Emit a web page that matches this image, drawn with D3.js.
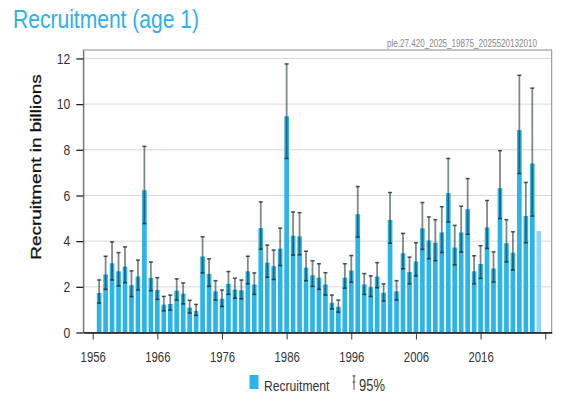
<!DOCTYPE html>
<html><head><meta charset="utf-8">
<script src="https://cdn.jsdelivr.net/npm/d3@7"></script>
<style>
html,body{margin:0;padding:0;background:#fff;}
svg{display:block;font-family:"Liberation Sans",Arial,Helvetica,sans-serif;}
</style></head>
<body>
<svg id="chart" width="585" height="397"></svg>
<script>
const years = d3.range(1957, 2026);
const recruitment = [1.73,2.54,3.03,2.68,2.89,2.07,2.45,6.23,2.39,1.86,
  1.22,1.25,1.83,1.70,1.09,0.95,3.33,2.57,1.80,1.48,
  2.13,1.88,1.85,2.68,2.10,4.57,3.06,2.90,3.67,9.47,
  4.24,4.21,2.84,2.51,2.40,2.10,1.30,1.13,2.40,2.71,
  5.18,2.10,1.98,2.45,1.74,4.93,1.80,3.47,2.65,3.11,
  4.56,4.03,3.93,4.38,6.10,3.72,4.38,5.40,2.68,3.00,
  4.60,2.80,6.32,3.91,3.49,8.87,5.10,7.40,4.44];
const ciLow = [1.29,1.89,2.30,2.04,2.18,1.57,1.86,4.77,1.83,1.45,
  0.95,0.98,1.42,1.25,0.85,0.75,2.61,2.02,1.42,1.14,
  1.67,1.50,1.47,2.13,1.67,3.65,2.42,2.32,2.93,7.62,
  3.39,3.40,2.27,2.02,1.89,1.64,1.03,0.89,1.94,2.20,
  4.18,1.67,1.58,1.96,1.38,3.91,1.42,2.79,2.13,2.48,
  3.64,3.23,3.14,3.50,4.84,2.96,3.52,4.30,2.13,2.37,
  3.68,2.21,4.99,3.09,2.74,6.96,3.93,5.10,null];
const ciHigh = [2.30,3.34,3.97,3.50,3.75,2.70,3.17,8.15,3.09,2.40,
  1.58,1.64,2.35,2.17,1.41,1.23,4.19,3.23,2.27,1.86,
  2.67,2.38,2.30,3.34,2.61,5.72,3.83,3.61,4.57,11.76,
  5.28,5.25,3.56,3.14,3.01,2.62,1.64,1.42,3.01,3.37,
  6.39,2.58,2.48,3.06,2.13,6.13,2.27,4.34,3.30,3.93,
  5.69,5.06,4.94,5.51,7.62,4.69,5.53,6.74,3.36,3.80,
  5.78,3.53,7.96,4.94,4.41,11.26,6.57,10.70,null];
const xTickYears = [1956,1966,1976,1986,1996,2006,2016,2026];
const xTickLabels = ["1956","1966","1976","1986","1996","2006","2016",""];
const yTicks = [0,2,4,6,8,10,12];
const titleText = "Recruitment (age 1)";
const subtitleText = "ple.27.420_2025_19875_2025520132010";
const yAxisTitle = "Recruitment in billions";
const legendLabels = ["Recruitment","95%"];

const data = years.map((y,i)=>({year:y, value:recruitment[i], lo:ciLow[i], hi:ciHigh[i], provisional: ciLow[i]===null}));

const SX = 0.81; // horizontal squeeze of the text
const svg = d3.select("#chart");
const L = 83.3, R = 551.7, T = 50, B = 332.5;
const x = d3.scaleLinear().domain([1954.55, 2027]).range([L, R]);
const y = d3.scaleLinear().domain([0, 12.37]).range([B, T]);
const step = x(1) - x(0);
const bw = step * 0.72;

// title
svg.append("text").attr("transform","translate(13,28) scale("+SX+",1)")
  .attr("font-size",26).attr("fill","#2eb1e6").text(titleText);
svg.append("text").attr("transform","translate(537,47) scale("+SX+",1)")
  .attr("text-anchor","end").attr("font-size",10).attr("fill","#888").text(subtitleText);

// grid
svg.append("g").selectAll("line").data(yTicks.filter(d=>d>0)).join("line")
  .attr("x1",L).attr("x2",R).attr("y1",d=>y(d)).attr("y2",d=>y(d))
  .attr("stroke","#d8d8d8").attr("stroke-width",1);

// frame
svg.append("rect").attr("x",L).attr("y",T).attr("width",R-L).attr("height",B-T)
  .attr("fill","none").attr("stroke","#8a8a8a").attr("stroke-width",1);

// bars
svg.append("g").selectAll("rect").data(data).join("rect")
  .attr("x",d=>x(d.year)-bw/2).attr("width",bw)
  .attr("y",d=>y(d.value)).attr("height",d=>B-y(d.value))
  .attr("fill",d=>d.provisional?"#8fd6f3":"#2ab4e8");

// error bars
const eb = svg.append("g").attr("stroke","rgba(20,40,40,0.55)");
const withCI = data.filter(d=>!d.provisional);
eb.selectAll("line.v").data(withCI).join("line").attr("class","v")
  .attr("x1",d=>x(d.year)).attr("x2",d=>x(d.year))
  .attr("y1",d=>y(d.lo)).attr("y2",d=>y(d.hi)).attr("stroke-width",1.8);
["lo","hi"].forEach(k=>{
  eb.selectAll("line."+k).data(withCI).join("line").attr("class",k)
    .attr("x1",d=>x(d.year)-2).attr("x2",d=>x(d.year)+2)
    .attr("y1",d=>y(d[k])).attr("y2",d=>y(d[k]))
    .attr("stroke","rgba(30,40,40,0.8)").attr("stroke-width",1.5);
});

// x axis
const xAxis = d3.axisBottom(x).tickValues(xTickYears)
  .tickFormat((d,i)=>xTickLabels[i]).tickSizeInner(7).tickSizeOuter(0).tickPadding(13);
const gx = svg.append("g").attr("transform","translate(0,"+B+")").call(xAxis);
gx.select(".domain").attr("stroke","#111").attr("stroke-width",1.5);
gx.selectAll(".tick line").attr("stroke","#333");
gx.selectAll(".tick text").attr("font-size",14).attr("fill","#333")
  .attr("font-family","'Liberation Sans',Arial,sans-serif")
  .attr("transform","scale("+SX+",1)");

// y axis
const yAxis = d3.axisLeft(y).tickValues(yTicks).tickSizeInner(7).tickSizeOuter(0).tickPadding(6);
const gy = svg.append("g").attr("transform","translate("+L+",0)").call(yAxis);
gy.select(".domain").attr("stroke","#666").attr("stroke-width",1);
gy.selectAll(".tick line").attr("stroke","#222").attr("stroke-width",1.3);
gy.selectAll(".tick text").attr("font-size",15).attr("fill","#333")
  .attr("font-family","'Liberation Sans',Arial,sans-serif")
  .attr("transform","scale("+SX+",1)").attr("x",-13/SX);

// y axis title
svg.append("text").attr("transform","translate(41,167) scale("+SX+",1) rotate(-90)")
  .attr("text-anchor","middle").attr("font-size",19)
  .attr("fill","#111").attr("stroke","#111").attr("stroke-width",0.35).text(yAxisTitle);

// legend
const lg = svg.append("g");
lg.append("rect").attr("x",249.5).attr("y",375).attr("width",9).attr("height",14).attr("fill","#2ab4e8");
lg.append("text").attr("transform","translate(264,391) scale("+SX+",1)")
  .attr("font-size",15).attr("fill","#333").text(legendLabels[0]);
lg.append("line").attr("x1",354).attr("x2",354).attr("y1",375).attr("y2",390)
  .attr("stroke","#555").attr("stroke-width",1);
lg.append("line").attr("x1",352.5).attr("x2",355.5).attr("y1",376).attr("y2",376).attr("stroke","#555");
lg.append("line").attr("x1",352.5).attr("x2",355.5).attr("y1",382).attr("y2",382).attr("stroke","#555");
lg.append("text").attr("transform","translate(359,391) scale("+SX+",1)")
  .attr("font-size",16).attr("fill","#333").text(legendLabels[1]);
</script>
</body></html>
